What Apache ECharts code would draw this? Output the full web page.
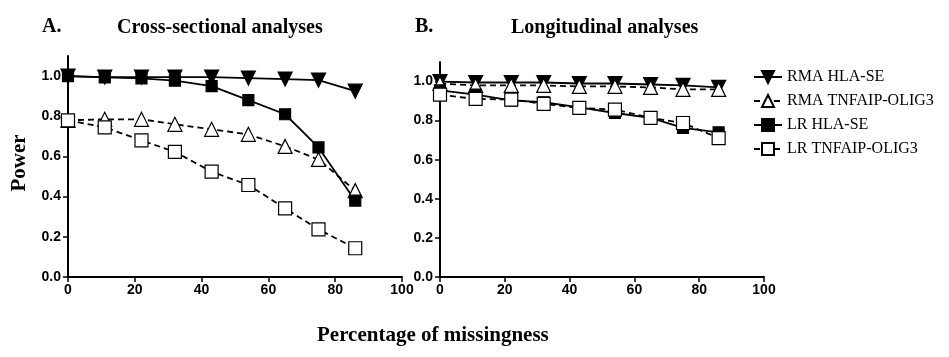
<!DOCTYPE html>
<html>
<head>
<meta charset="utf-8">
<script src="https://cdn.jsdelivr.net/npm/echarts@6/dist/echarts.min.js"></script>
<style>
  html, body { margin: 0; padding: 0; background: #fff; }
  #myChart { width: 949px; height: 357px; }
</style>
</head>
<body>
<div id="myChart"></div>
<script>
// missingness (%) on x
const missing = [0, 11, 22, 32, 43, 54, 65, 75, 86];
const xTicks = [0, 20, 40, 60, 80, 100];
const yTicks = [0.0, 0.2, 0.4, 0.6, 0.8, 1.0];

// A. cross-sectional
const crossRmaHla = [1.0, 0.995, 0.995, 0.995, 0.995, 0.99, 0.985, 0.98, 0.925];
const crossRmaTnf = [0.78, 0.785, 0.785, 0.76, 0.735, 0.71, 0.65, 0.585, 0.43];
const crossLrHla = [1.0, 0.994, 0.989, 0.977, 0.95, 0.88, 0.81, 0.645, 0.38];
const crossLrTnf = [0.78, 0.745, 0.68, 0.623, 0.524, 0.458, 0.342, 0.237, 0.143];

// B. longitudinal
const longRmaHla = [1.0, 0.995, 0.995, 0.995, 0.99, 0.99, 0.985, 0.98, 0.97];
const longRmaTnf = [0.99, 0.98, 0.98, 0.98, 0.975, 0.975, 0.97, 0.96, 0.96];
const longLrHla = [0.955, 0.933, 0.904, 0.894, 0.868, 0.839, 0.814, 0.763, 0.74];
const longLrTnf = [0.933, 0.911, 0.908, 0.886, 0.865, 0.856, 0.814, 0.788, 0.711];

const names = ['RMA HLA-SE', 'RMA TNFAIP-OLIG3', 'LR HLA-SE', 'LR TNFAIP-OLIG3'];

const myChart = echarts.init(document.getElementById('myChart'));

const tickFont = { fontFamily: 'Liberation Sans', fontWeight: 'bold', fontSize: 14, color: '#000' };
const serifBold = { fontFamily: 'Liberation Serif', fontWeight: 'bold', color: '#000' };

function pairs(vals) {
  return missing.map((m, i) => [m, vals[i]]);
}

// one style per series name
const looks = [
  { symbol: 'triangle', rotate: 180, size: 14, fill: '#000', dash: 'solid' },
  { symbol: 'triangle', rotate: 0, size: 14, fill: '#fff', dash: [6, 4] },
  { symbol: 'rect', rotate: 0, size: 11, fill: '#000', dash: 'solid' },
  { symbol: 'rect', rotate: 0, size: 13, fill: '#fff', dash: [6, 4] }
];

function makeSeries(idx, vals, look, name) {
  return {
    name: name,
    type: 'line',
    xAxisIndex: idx,
    yAxisIndex: idx,
    data: pairs(vals),
    symbol: look.symbol,
    symbolRotate: look.rotate,
    symbolSize: look.size,
    showAllSymbol: true,
    lineStyle: { color: '#000', width: 1.8, type: look.dash },
    itemStyle: { color: look.fill, borderColor: '#000', borderWidth: 1.2 },
    emphasis: { disabled: true },
    animation: false
  };
}

const panels = [
  [crossRmaHla, crossRmaTnf, crossLrHla, crossLrTnf],
  [longRmaHla, longRmaTnf, longLrHla, longLrTnf]
];

const series = [];
panels.forEach((set, p) => {
  set.forEach((vals, k) => series.push(makeSeries(p, vals, looks[k], names[k])));
});

function xAxis(gi) {
  return {
    type: 'value', gridIndex: gi, min: 0, max: 100, interval: 20,
    axisLine: { onZero: false, lineStyle: { color: '#000', width: 2 } },
    axisTick: { length: 5, lineStyle: { color: '#000', width: 1.5 } },
    axisLabel: Object.assign({ margin: 6, formatter: v => xTicks.includes(v) ? String(v) : '' }, tickFont),
    splitLine: { show: false }
  };
}

function yAxis(gi) {
  return {
    type: 'value', gridIndex: gi, min: 0, max: 1.1, interval: 0.2,
    axisLine: { show: true, lineStyle: { color: '#000', width: 2 } },
    axisTick: { show: true, length: 5, lineStyle: { color: '#000', width: 1.5 } },
    axisLabel: Object.assign({
      margin: 7, showMaxLabel: false,
      formatter: v => yTicks.some(t => Math.abs(t - v) < 1e-6) ? v.toFixed(1) : ''
    }, tickFont),
    splitLine: { show: false }
  };
}

const option = {
  backgroundColor: '#fff',
  animation: false,
  grid: [
    { left: 68, top: 56, width: 334, height: 221 },
    { left: 440, top: 62, width: 324, height: 215 }
  ],
  xAxis: [xAxis(0), xAxis(1)],
  yAxis: [yAxis(0), yAxis(1)],
  legend: {
    data: names,
    orient: 'vertical',
    left: 748,
    top: 64,
    itemGap: 8,
    itemWidth: 28,
    itemHeight: 15,
    textStyle: { fontFamily: 'Liberation Serif', fontSize: 16, color: '#000' }
  },
  title: [
    { text: 'A.', left: 37, top: 12, textStyle: Object.assign({ fontSize: 20 }, serifBold) },
    { text: 'Cross-sectional analyses', left: 112, top: 13, textStyle: Object.assign({ fontSize: 20 }, serifBold) },
    { text: 'B.', left: 410, top: 12, textStyle: Object.assign({ fontSize: 20 }, serifBold) },
    { text: 'Longitudinal analyses', left: 506, top: 13, textStyle: Object.assign({ fontSize: 20 }, serifBold) },
    { text: 'Percentage of missingness', left: 312, top: 320, textStyle: Object.assign({ fontSize: 21 }, serifBold) }
  ],
  graphic: [
    {
      type: 'text', x: 20, y: 163, rotation: Math.PI / 2,
      style: { text: 'Power', font: 'bold 21px "Liberation Serif"', fill: '#000', align: 'center', verticalAlign: 'middle' }
    }
  ],
  series: series
};

myChart.setOption(option);
</script>
</body>
</html>
